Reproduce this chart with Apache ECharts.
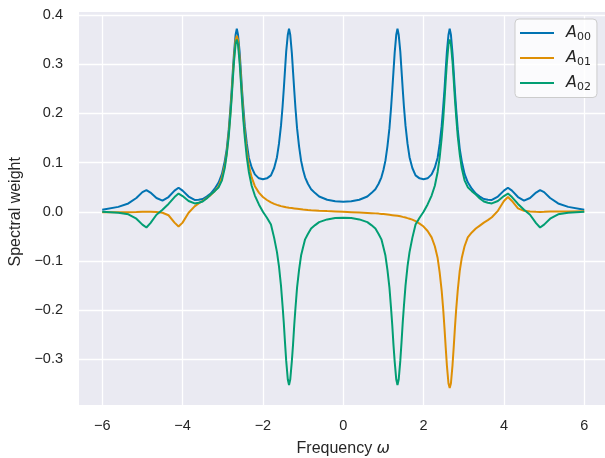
<!DOCTYPE html>
<html>
<head>
<meta charset="utf-8">
<script src="https://cdn.jsdelivr.net/npm/echarts@6/dist/echarts.min.js"></script>
<style>
  html, body { margin: 0; padding: 0; background: #ffffff; }
  #chart { width: 605px; height: 458px; }
</style>
</head>
<body>
<div id="chart"></div>
<script>
// frequency samples (denser near the peaks)
const freq = [-6.0, -5.6, -5.35, -5.15, -5.0, -4.9, -4.8, -4.65, -4.5, -4.35, -4.2, -4.1, -4.0, -3.85, -3.7, -3.6, -3.5, -3.4, -3.3, -3.2,
  -3.1, -3.02, -2.95, -2.9, -2.85, -2.81, -2.78, -2.75, -2.72, -2.68, -2.65, -2.62, -2.58, -2.55, -2.52, -2.49, -2.45, -2.4, -2.35, -2.28,
  -2.2, -2.1, -2.0, -1.9, -1.8, -1.72, -1.65, -1.6, -1.55, -1.51, -1.48, -1.45, -1.42, -1.38, -1.35, -1.32, -1.28, -1.25, -1.22, -1.19,
  -1.15, -1.1, -1.05, -1.0, -0.95, -0.88, -0.8, -0.7, -0.6, -0.4, -0.2,
  0,
  0.2, 0.4, 0.6, 0.7, 0.8, 0.88, 0.95, 1.0, 1.05, 1.1, 1.15, 1.19, 1.22, 1.25, 1.28, 1.32, 1.35, 1.38, 1.42, 1.45,
  1.48, 1.51, 1.55, 1.6, 1.65, 1.72, 1.8, 1.9, 2.0, 2.1, 2.2, 2.28, 2.35, 2.4, 2.45, 2.49, 2.52, 2.55, 2.58, 2.62,
  2.65, 2.68, 2.72, 2.75, 2.78, 2.81, 2.85, 2.9, 2.95, 3.02, 3.1, 3.2, 3.3, 3.4, 3.5, 3.6, 3.7, 3.85, 4.0, 4.1,
  4.2, 4.35, 4.5, 4.65, 4.8, 4.9, 5.0, 5.15, 5.35, 5.6, 6.0]

const a00 = [0.004, 0.010, 0.017, 0.028, 0.04, 0.044, 0.039, 0.028, 0.0228, 0.03, 0.043, 0.049, 0.043, 0.031, 0.024, 0.0245, 0.026, 0.031, 0.037, 0.047,
  0.06, 0.077, 0.103, 0.128, 0.168, 0.21, 0.245, 0.2845, 0.322, 0.36, 0.372, 0.36, 0.325, 0.288, 0.248, 0.215, 0.174, 0.138, 0.11, 0.09,
  0.076, 0.068, 0.066, 0.068, 0.074, 0.089, 0.111, 0.1385, 0.175, 0.2145, 0.25, 0.288, 0.326, 0.36, 0.372, 0.36, 0.323, 0.285, 0.247, 0.211,
  0.17, 0.133, 0.104, 0.085, 0.07, 0.057, 0.046, 0.038, 0.031, 0.0245, 0.0215,
  0.0205,
  0.0215, 0.0245, 0.031, 0.038, 0.046, 0.057, 0.07, 0.085, 0.104, 0.133, 0.17, 0.211, 0.247, 0.285, 0.323, 0.36, 0.372, 0.36, 0.326, 0.288,
  0.25, 0.2145, 0.175, 0.1385, 0.111, 0.089, 0.074, 0.068, 0.066, 0.068, 0.076, 0.09, 0.11, 0.138, 0.174, 0.215, 0.248, 0.288, 0.325, 0.36,
  0.372, 0.36, 0.322, 0.2845, 0.245, 0.21, 0.168, 0.128, 0.103, 0.077, 0.06, 0.047, 0.037, 0.031, 0.026, 0.0245, 0.024, 0.031, 0.043, 0.049,
  0.043, 0.03, 0.0228, 0.028, 0.039, 0.044, 0.04, 0.028, 0.017, 0.010, 0.004]

const a01 = [-0.001, -0.0008, -0.0007, -0.0004, 0, 0.0002, 0, -0.0005, -0.002, -0.007, -0.022, -0.03, -0.022, -0.002, 0.011, 0.017, 0.022, 0.028, 0.034, 0.042,
  0.052, 0.07, 0.094, 0.12, 0.16, 0.2, 0.236, 0.275, 0.312, 0.349, 0.358, 0.349, 0.312, 0.275, 0.236, 0.2, 0.16, 0.123, 0.094, 0.07,
  0.052, 0.039, 0.03, 0.024, 0.019, 0.016, 0.014, 0.0128, 0.0115, 0.0107, 0.0103, 0.0097, 0.0092, 0.0086, 0.0082, 0.0079, 0.0075, 0.0072, 0.0069, 0.0066,
  0.0062, 0.0057, 0.0052, 0.0047, 0.0043, 0.0037, 0.0032, 0.0027, 0.0022, 0.0014, 0.0007,
  0,
  -0.0007, -0.0014, -0.0022, -0.0027, -0.0032, -0.0037, -0.0043, -0.0047, -0.0052, -0.0057, -0.0062, -0.0066, -0.0069, -0.0072, -0.0075, -0.0079, -0.0082, -0.0086, -0.0092, -0.0097,
  -0.0103, -0.0107, -0.0115, -0.0128, -0.014, -0.016, -0.019, -0.024, -0.03, -0.039, -0.052, -0.07, -0.094, -0.123, -0.16, -0.2, -0.236, -0.275, -0.312, -0.349,
  -0.358, -0.349, -0.312, -0.275, -0.236, -0.2, -0.16, -0.12, -0.094, -0.07, -0.052, -0.042, -0.034, -0.028, -0.022, -0.017, -0.011, 0.002, 0.022, 0.03,
  0.022, 0.007, 0.002, 0.0005, 0, -0.0002, 0, 0.0004, 0.0007, 0.0008, 0.001]

const a02 = [0.0, -0.002, -0.005, -0.014, -0.026, -0.032, -0.023, -0.006, 0.004, 0.016, 0.03, 0.037, 0.032, 0.022, 0.017, 0.0185, 0.021, 0.027, 0.035, 0.042,
  0.05, 0.064, 0.089, 0.117, 0.154, 0.195, 0.229, 0.268, 0.305, 0.341, 0.35, 0.34, 0.303, 0.266, 0.227, 0.19, 0.15, 0.11, 0.081, 0.053,
  0.033, 0.015, 0.0, -0.012, -0.026, -0.053, -0.082, -0.111, -0.15, -0.192, -0.226, -0.266, -0.303, -0.341, -0.352, -0.341, -0.304, -0.27, -0.23, -0.196,
  -0.154, -0.118, -0.089, -0.072, -0.056, -0.045, -0.034, -0.027, -0.021, -0.0155, -0.0128,
  -0.012,
  -0.0128, -0.0155, -0.021, -0.027, -0.034, -0.045, -0.056, -0.072, -0.089, -0.118, -0.154, -0.196, -0.23, -0.27, -0.304, -0.341, -0.352, -0.341, -0.303, -0.266,
  -0.226, -0.192, -0.15, -0.111, -0.082, -0.053, -0.026, -0.012, 0.0, 0.015, 0.033, 0.053, 0.081, 0.11, 0.15, 0.19, 0.227, 0.266, 0.303, 0.34,
  0.35, 0.341, 0.305, 0.268, 0.229, 0.195, 0.154, 0.117, 0.089, 0.064, 0.05, 0.042, 0.035, 0.027, 0.021, 0.0185, 0.017, 0.022, 0.032, 0.037,
  0.03, 0.016, 0.004, -0.006, -0.023, -0.032, -0.026, -0.014, -0.005, -0.002, 0.0]

const seriesNames = ['A00', 'A01', 'A02']
const seriesValues = [a00, a01, a02]
const colors = ['#0173B2', '#DE8F05', '#029E73']

const textColor = '#262626'
const font = '"Liberation Sans", Arial, sans-serif'
const minus = s => String(s).replace('-', '\u2212')

var chart = echarts.init(document.getElementById('chart'), null, {renderer: 'canvas'})

var option = {
  animation: false,
  color: colors,
  graphic: [{
    type: 'rect',
    z: -10,
    silent: true,
    shape: {x: 79, y: 12, width: 530, height: 393},
    style: {fill: '#EAEAF2'}
  }],
  // axes span -8..8 / -0.4..0.4 so ticks stay on round values; the visible panel is the rect above
  grid: {left: 21.9, top: 15, width: 642.7, height: 393.6, containLabel: false, outerBoundsMode: 'none'},
  xAxis: {
    type: 'value',
    min: -8, max: 8, interval: 2,
    axisLine: {show: false}, axisTick: {show: false},
    splitLine: {lineStyle: {color: '#ffffff', width: 1.3}},
    axisLabel: {
      color: textColor, fontFamily: font, fontSize: 14.5, margin: 10,
      formatter: v => Math.abs(v) > 6 ? '' : minus(v)
    },
    name: '{t|Frequency }{w|ω}',
    nameLocation: 'middle',
    nameGap: 32,
    nameTextStyle: {
      rich: {
        t: {color: textColor, fontFamily: font, fontSize: 16},
        w: {color: textColor, fontFamily: '"DejaVu Sans"', fontStyle: 'italic', fontSize: 16}
      }
    }
  },
  yAxis: {
    type: 'value',
    min: -0.4, max: 0.4, interval: 0.1,
    offset: -57.1,
    axisLine: {show: false}, axisTick: {show: false},
    splitLine: {lineStyle: {color: '#ffffff', width: 1.3}},
    axisLabel: {
      color: textColor, fontFamily: font, fontSize: 14.5, margin: 16,
      formatter: v => v < -0.35 ? '' : minus(v.toFixed(1))
    },
    name: 'Spectral weight',
    nameLocation: 'middle',
    nameRotate: 90,
    nameGap: 49,
    nameTextStyle: {color: textColor, fontFamily: font, fontSize: 16}
  },
  legend: {
    orient: 'vertical',
    left: 515, top: 19,
    padding: [6, 6, 5, 5],
    itemGap: 7.5,
    itemWidth: 34, itemHeight: 2,
    icon: 'rect',
    backgroundColor: 'rgba(255,255,255,0.8)',
    borderColor: '#cccccc', borderWidth: 1, borderRadius: 4,
    formatter: name => '{a|A}{s|' + name.slice(1) + '}',
    textStyle: {
      rich: {
        a: {color: textColor, fontFamily: '"DejaVu Sans"', fontStyle: 'italic', fontSize: 16, padding: [0, 0, 0, 7]},
        s: {color: textColor, fontFamily: '"DejaVu Sans"', fontSize: 11, padding: [8, 0, 0, 0]}
      }
    },
    data: seriesNames
  },
  series: seriesNames.map((name, k) => ({
    name: name,
    type: 'line',
    showSymbol: false,
    symbol: 'none',
    lineStyle: {width: 2, color: colors[k]},
    data: freq.map((f, i) => [f, seriesValues[k][i]])
  }))
}

chart.setOption(option)
</script>
</body>
</html>
